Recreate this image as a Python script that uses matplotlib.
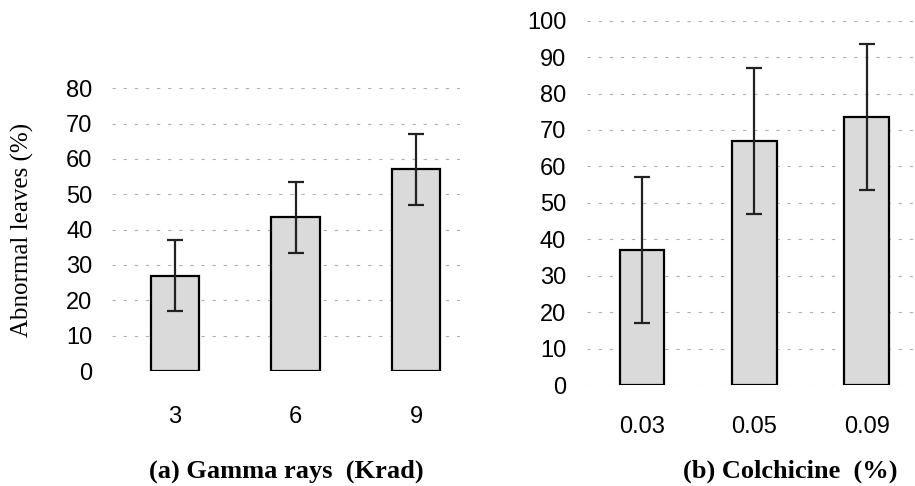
import matplotlib.pyplot as plt

# data
gamma_labels = ["3", "6", "9"]
gamma_vals = [27, 43.5, 57]
gamma_err = [10, 10, 10]

colch_labels = ["0.03", "0.05", "0.09"]
colch_vals = [37, 67, 73.5]
colch_err = [20, 20, 20]

fig = plt.figure(figsize=(9.15, 4.86), dpi=100)

sans = "Liberation Sans"
serif = "Liberation Serif"


def panel(ax, labels, vals, err, ymax, xlim):
    x = range(len(vals))
    ax.bar(x, vals, width=0.40, color="#dadada", edgecolor="black",
           linewidth=1.6, zorder=2)
    ax.errorbar(x, vals, yerr=err, fmt="none", ecolor="#222222",
                elinewidth=1.6, capsize=6, capthick=1.6, zorder=3)
    ax.set_ylim(0, ymax)
    ax.set_xlim(*xlim)
    ax.set_yticks(range(0, ymax + 1, 10))
    ax.set_xticks(list(x))
    ax.set_xticklabels(labels)
    ax.yaxis.grid(True, color="#b0b0b0", linestyle=(0, (3, 7)), linewidth=0.8)
    ax.set_axisbelow(True)
    for s in ax.spines.values():
        s.set_visible(False)
    ax.tick_params(length=0)
    for t in ax.get_yticklabels() + ax.get_xticklabels():
        t.set_fontfamily(sans)
        t.set_fontsize(17)


ax1 = fig.add_axes([0.1224, 0.2366, 0.380, 0.582])
panel(ax1, gamma_labels, gamma_vals, gamma_err, 80, (-0.52, 2.36))
ax1.tick_params(axis="y", pad=14)
ax1.tick_params(axis="x", pad=25)
ax1.set_ylabel("Abnormal leaves (%)", fontfamily=serif, fontsize=18)
ax1.yaxis.set_label_coords(-0.225, 0.5)

ax2 = fig.add_axes([0.6415, 0.2078, 0.3585, 0.7496])
panel(ax2, colch_labels, colch_vals, colch_err, 100, (-0.49, 2.43))
ax2.tick_params(axis="y", pad=15)
ax2.tick_params(axis="x", pad=22)

fig.text(286 / 915, 1 - 471 / 486, "(a) Gamma rays  (Krad)", fontfamily=serif,
         fontweight="bold", fontsize=19, ha="center", va="center")
fig.text(790 / 915, 1 - 471 / 486, "(b) Colchicine  (%)", fontfamily=serif,
         fontweight="bold", fontsize=19, ha="center", va="center")

fig.savefig("out.png", dpi=100)
